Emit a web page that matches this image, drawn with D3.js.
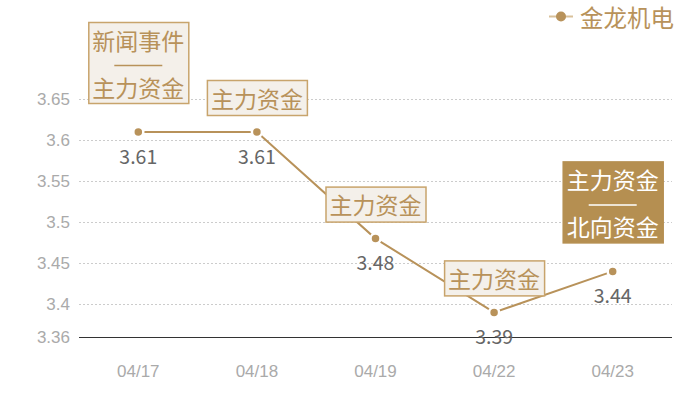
<!DOCTYPE html>
<html><head><meta charset="utf-8">
<script src="https://cdn.jsdelivr.net/npm/d3@7/dist/d3.min.js"></script>
<style>body{margin:0;background:#fff;} svg{display:block;font-family:"Noto Sans CJK SC","Noto Sans",sans-serif;}</style>
</head><body>
<svg id="c" width="700" height="400"></svg>
<script>
const categories = ["04/17","04/18","04/19","04/22","04/23"];
const values = [3.61, 3.61, 3.48, 3.39, 3.44];
const seriesName = "金龙机电";
const yTicks = [3.36, 3.4, 3.45, 3.5, 3.55, 3.6, 3.65];
const annotations = [
  ["新闻事件","主力资金"],
  ["主力资金"],
  ["主力资金"],
  ["主力资金"],
  ["主力资金","北向资金"]
];
const highlighted = [false,false,false,false,true];

(function(){
const main = "#b8925a";
const svg = d3.select("#c");
const pLeft = 79, pRight = 672, pBottom = 337;
const x = d3.scaleBand().domain(categories).range([pLeft, pRight]);
const y = d3.scaleLinear().domain([3.36, 3.7]).range([pBottom, pBottom - 0.34*820]);

// grid
svg.append("g").selectAll("line").data(yTicks.filter(t => t > 3.36)).join("line")
  .attr("x1", pLeft).attr("x2", pRight)
  .attr("y1", d => Math.round(y(d))+0.5).attr("y2", d => Math.round(y(d))+0.5)
  .attr("stroke", "#ccc").attr("stroke-dasharray", "2,2");

// y axis labels
const yAxis = d3.axisLeft(y).tickValues(yTicks).tickSize(0).tickPadding(9).tickFormat(d => String(+d.toFixed(2)));
const gy = svg.append("g").attr("transform", `translate(${pLeft},0)`).call(yAxis);
gy.select(".domain").remove();
gy.selectAll("text").attr("fill", "#aaa").style("font-size", "17px").style("font-family", "inherit");

// x axis
const xAxis = d3.axisBottom(x).tickSize(0).tickPadding(28);
const gx = svg.append("g").attr("transform", `translate(0,${pBottom})`).call(xAxis);
gx.select(".domain").attr("stroke", "#333").attr("d", `M${pLeft},0.5H${pRight}`);
gx.selectAll("text").attr("fill", "#aaa").style("font-size", "17px").style("font-family", "inherit");

const cx = d => x(d) + x.bandwidth()/2;

// line
svg.append("path").datum(values)
  .attr("d", d3.line().x((d,i) => cx(categories[i])).y(d => y(d)))
  .attr("fill", "none").attr("stroke", main).attr("stroke-width", 2);

// dots
svg.append("g").selectAll("circle").data(values).join("circle")
  .attr("cx", (d,i) => cx(categories[i])).attr("cy", d => y(d))
  .attr("r", 5).attr("fill", main).attr("stroke", "#fff").attr("stroke-width", 2.5);

// value labels
svg.append("g").selectAll("text").data(values).join("text")
  .attr("x", (d,i) => cx(categories[i])).attr("y", d => y(d) + 23)
  .attr("text-anchor", "middle").attr("dominant-baseline", "central")
  .attr("fill", "#666").style("font-size", "19.5px")
  .text(d => d.toFixed(2));

// annotations
annotations.forEach((lines, i) => {
  const px = cx(categories[i]), py = y(values[i]);
  const hl = highlighted[i];
  const multi = lines.length > 1;
  const h = multi ? 81 : 35, w = 100;
  const gap = multi ? 29 : 17;
  const by = py - gap - h;
  const g = svg.append("g");
  g.append("rect").attr("x", px - w/2 + 0.5).attr("y", by + 0.5).attr("width", w).attr("height", h)
    .attr("fill", hl ? "#b58f51" : "#f4f0ea").attr("stroke", hl ? "#b58f51" : "#c8a46c").attr("stroke-width", 1.5);
  const tc = hl ? "#fff" : "#b8925a";
  if (multi) {
    g.append("text").attr("x", px).attr("y", by + 18).attr("text-anchor","middle").attr("dominant-baseline","central")
      .attr("fill", tc).style("font-size","23px").text(lines[0]);
    g.append("line").attr("x1", px - 24).attr("x2", px + 24).attr("y1", by + 43.5).attr("y2", by + 43.5)
      .attr("stroke", tc).attr("stroke-width", 1.5);
    g.append("text").attr("x", px).attr("y", by + 65).attr("text-anchor","middle").attr("dominant-baseline","central")
      .attr("fill", tc).style("font-size","23px").text(lines[1]);
  } else {
    g.append("text").attr("x", px).attr("y", by + h/2).attr("text-anchor","middle").attr("dominant-baseline","central")
      .attr("fill", tc).style("font-size","23px").text(lines[0]);
  }
});

// legend
const lg = svg.append("g");
lg.append("line").attr("x1", 549).attr("x2", 573).attr("y1", 16.5).attr("y2", 16.5).attr("stroke", "#d9c19a").attr("stroke-width", 2);
lg.append("circle").attr("cx", 561).attr("cy", 16.5).attr("r", 5).attr("fill", main);
lg.append("text").attr("x", 580).attr("y", 17).attr("dominant-baseline","central").attr("fill", main)
  .style("font-size", "23.5px").text(seriesName);
})();
</script>
</body></html>
